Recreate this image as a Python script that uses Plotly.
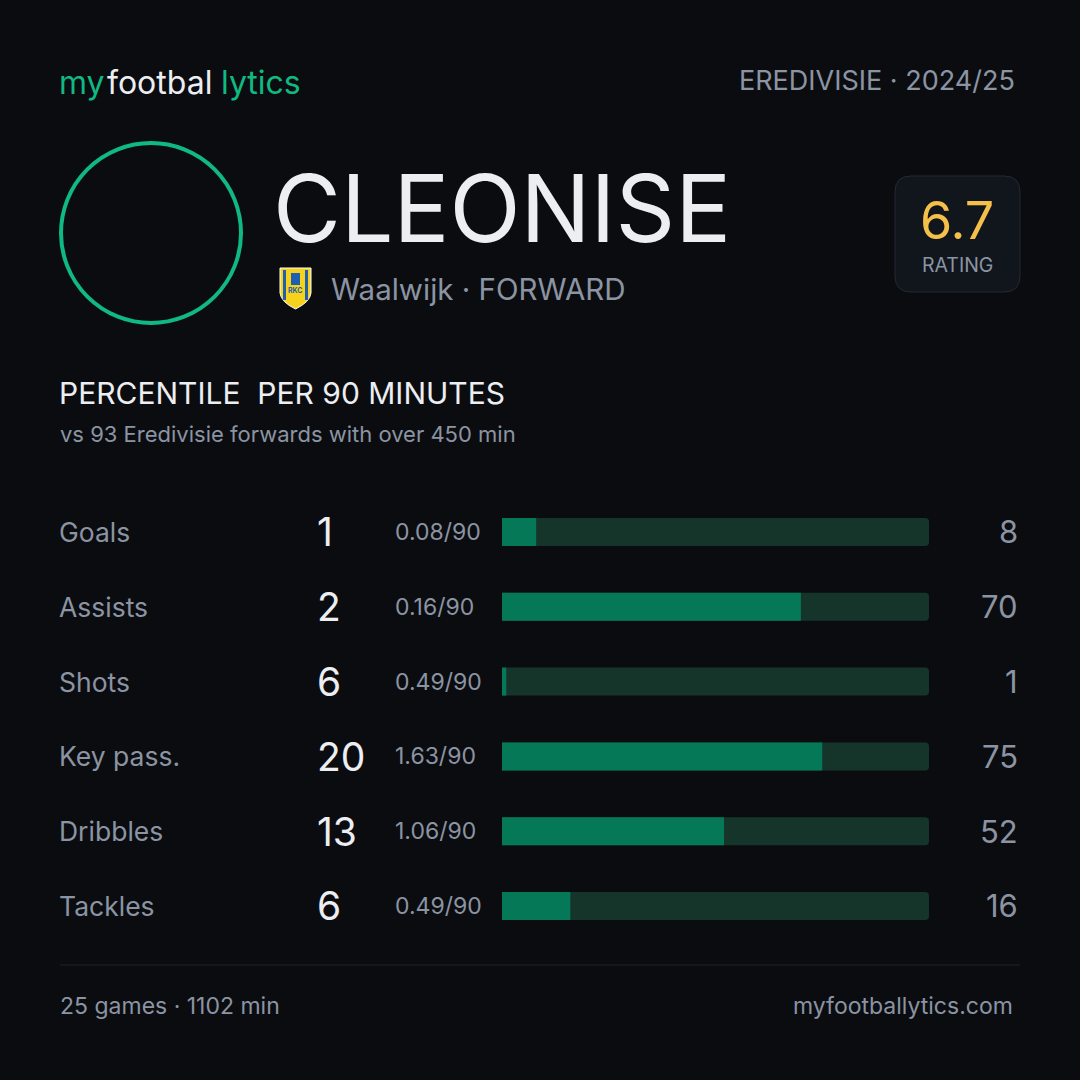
import plotly.graph_objects as go

W, H = 1080, 1080

# data
stats = ['Goals', 'Assists', 'Shots', 'Key pass.', 'Dribbles', 'Tackles']
totals = [1, 2, 6, 20, 13, 6]
per90 = ['0.08/90', '0.16/90', '0.49/90', '1.63/90', '1.06/90', '0.49/90']
percentiles = [8, 70, 1, 75, 52, 16]

player = 'CLEONISE'
team_line = 'Waalwijk · FORWARD'
league = 'EREDIVISIE · 2024/25'
rating = '6.7'
games_line = '25 games · 1102 min'

BG = '#0b0c10'
GREEN = '#10b981'
FILL = '#047857'
TRACK = '#15352a'
GREY = '#8b94a3'
WHITE = '#eceef2'
FONT = 'Inter'


def px(x):
    return x / W


def py(y):
    return 1 - y / H


fig = go.Figure()

fig.add_trace(go.Bar(
    y=stats, x=[100] * len(stats), orientation='h',
    marker=dict(color=TRACK, cornerradius=4, line=dict(width=0)), width=0.374,
    hoverinfo='skip', showlegend=False
))
fig.add_trace(go.Bar(
    y=stats, x=percentiles, orientation='h',
    marker=dict(color=FILL, cornerradius=4, line=dict(width=0)), width=0.374,
    hoverinfo='skip', showlegend=False
))

ann = []


def txt(x, y, s, size, color, xa='left', ya='middle', yref='paper', xref='paper'):
    ann.append(dict(x=x, y=y, xref=xref, yref=yref, text=s, showarrow=False,
                    xanchor=xa, yanchor=ya,
                    font=dict(family=FONT, size=size, color=color)))


# header
txt(px(57), py(83), 'my', 32, GREEN)
txt(px(105), py(83), 'footbal', 32, WHITE)
txt(px(219), py(83), 'lytics', 32, GREEN)
txt(px(1017), py(81), league, 27, GREY, xa='right')

txt(px(271), py(208), player, 93, WHITE)
txt(px(329), py(289), team_line, 29.5, GREY)

txt(px(957), py(221), rating, 52, '#f5c04a', xa='center')
txt(px(957), py(265), 'RATING', 19.5, GREY, xa='center')

txt(px(57), py(393), 'PERCENTILE  PER 90 MINUTES', 30, WHITE)
txt(px(58), py(434), 'vs 93 Eredivisie forwards with over 450 min', 22, GREY)

# rows
for s, t, p9, pc in zip(stats, totals, per90, percentiles):
    txt(px(57), s, s, 26.5, GREY, yref='y')
    txt(px(315), s, str(t), 39, WHITE, yref='y')
    txt(px(393), s, p9, 23, GREY, yref='y')
    txt(px(1020), s, str(pc), 31, GREY, xa='right', yref='y')

# footer
txt(px(58), py(1006), games_line, 23, GREY)
txt(px(1015), py(1006), 'myfootballytics.com', 23, GREY, xa='right')

shapes = [
    # avatar ring
    dict(type='circle', xref='paper', yref='paper',
         x0=px(61), x1=px(241), y0=py(143), y1=py(323),
         line=dict(color=GREEN, width=4)),
    # rating box
    dict(type='path', xref='paper', yref='paper',
         path=(f'M {px(911)},{py(176)} L {px(1004)},{py(176)} '
               f'Q {px(1020)},{py(176)} {px(1020)},{py(192)} L {px(1020)},{py(276)} '
               f'Q {px(1020)},{py(292)} {px(1004)},{py(292)} L {px(911)},{py(292)} '
               f'Q {px(895)},{py(292)} {px(895)},{py(276)} L {px(895)},{py(192)} '
               f'Q {px(895)},{py(176)} {px(911)},{py(176)} Z'),
         fillcolor='#11151c', line=dict(color='#242a33', width=1)),
    # divider
    dict(type='line', xref='paper', yref='paper',
         x0=px(60), x1=px(1020), y0=py(965), y1=py(965),
         line=dict(color='#1f232b', width=1)),
    # crest
    dict(type='path', xref='paper', yref='paper',
         path=(f'M {px(280)},{py(268)} L {px(311)},{py(268)} L {px(311)},{py(293)} '
               f'Q {px(310)},{py(302)} {px(295.5)},{py(309)} '
               f'Q {px(281)},{py(302)} {px(280)},{py(293)} Z'),
         fillcolor='#f6d21c', line=dict(color='#ffffff', width=1)),
    dict(type='rect', xref='paper', yref='paper',
         x0=px(283), x1=px(286), y0=py(270), y1=py(300),
         fillcolor='#1f5fb0', line_width=0),
    dict(type='rect', xref='paper', yref='paper',
         x0=px(305), x1=px(308), y0=py(270), y1=py(300),
         fillcolor='#1f5fb0', line_width=0),
    dict(type='rect', xref='paper', yref='paper',
         x0=px(291), x1=px(300), y0=py(273), y1=py(285),
         fillcolor='#1f5fb0', line_width=0),
]
txt(px(295.5), py(291), '<b>RKC</b>', 7, '#1f5fb0', xa='center')

fig.update_layout(
    width=W, height=H,
    margin=dict(l=0, r=0, t=0, b=0),
    paper_bgcolor=BG, plot_bgcolor=BG,
    barmode='overlay',
    annotations=ann,
    shapes=shapes,
    xaxis=dict(domain=[px(502), px(929)], range=[0, 100], visible=False, fixedrange=True),
    yaxis=dict(domain=[py(943.4), py(494.6)], categoryorder='array', categoryarray=stats,
               range=[5.5, -0.5], visible=False, fixedrange=True),
)

fig.write_html('out.html', config={'displayModeBar': False},
               post_script="document.body.style.margin='0';document.body.style.background='#0b0c10';")
